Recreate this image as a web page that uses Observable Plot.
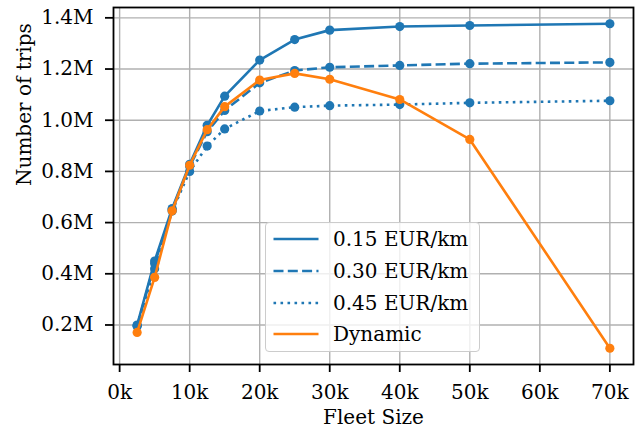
<!DOCTYPE html>
<html><head><meta charset="utf-8">
<script src="https://cdn.jsdelivr.net/npm/d3@7"></script>
<script src="https://cdn.jsdelivr.net/npm/@observablehq/plot@0.6"></script>
<style>
body{margin:0;background:#fff;}
#wrap{position:relative;width:644px;height:432px;font-family:'DejaVu Serif',serif;}
#wrap svg, #wrap svg text{font-family:'DejaVu Serif',serif !important;}
.legend{position:absolute;left:265px;top:222px;width:215px;height:130px;box-sizing:border-box;border:1.3px solid #cccccc;border-radius:4px;background:rgba(255,255,255,0.8);font-size:20px;color:#000;}
.legend .row{position:absolute;left:0;width:100%;height:32px;line-height:32px;white-space:nowrap;}
.legend .row svg{position:absolute;left:7px;top:0;}
.legend .row span{position:absolute;left:67px;top:0;}
</style>
</head><body>
<div id="wrap"></div>
<script>
// ---- data ----
const fleet = [2500, 5000, 7500, 10000, 12500, 15000, 20000, 25000, 30000, 40000, 50000, 70000];
const trips015 = [200000, 450000, 655000, 828000, 980000, 1094000, 1235000, 1315000, 1352000, 1366000, 1370000, 1377000];
const trips030 = [195000, 440000, 650000, 820000, 955000, 1038000, 1146000, 1194000, 1207000, 1214000, 1221000, 1226000];
const trips045 = [198000, 420000, 645000, 800000, 899000, 966000, 1036000, 1051000, 1057000, 1061000, 1068000, 1076000];
const tripsDyn = [171000, 386000, 646000, 824000, 963000, 1053000, 1157000, 1183000, 1160000, 1081000, 925000, 109000];
const seriesNames = ["0.15 EUR/km", "0.30 EUR/km", "0.45 EUR/km", "Dynamic"];
const xTicks = [0, 10000, 20000, 30000, 40000, 50000, 60000, 70000];
const yTicks = [200000, 400000, 600000, 800000, 1000000, 1200000, 1400000];

// ---- styling ----
const seriesColors = ["#1f77b4", "#1f77b4", "#1f77b4", "#ff7f0e"];
const seriesDash = [null, "10,4.3", "2.6,4.4", null];
const seriesValues = [trips015, trips030, trips045, tripsDyn];
const FONT = "'DejaVu Serif',serif";

const marks = [
  Plot.gridX(xTicks, {stroke: "#b0b0b0", strokeOpacity: 1, strokeWidth: 1.4}),
  Plot.gridY(yTicks, {stroke: "#b0b0b0", strokeOpacity: 1, strokeWidth: 1.4})
];
seriesNames.forEach((name, s) => {
  const rows = fleet.map((f, i) => ({series: name, fleet: f, trips: seriesValues[s][i]}));
  marks.push(Plot.line(rows, {x: "fleet", y: "trips", stroke: seriesColors[s], strokeWidth: 2.6,
    strokeDasharray: seriesDash[s] || undefined, strokeLinecap: "butt", strokeLinejoin: "round"}));
  marks.push(Plot.dot(rows, {x: "fleet", y: "trips", r: 4.6, fill: seriesColors[s], stroke: "none"}));
});
marks.push(
  Plot.frame({stroke: "black", strokeWidth: 1.8}),
  Plot.axisX(xTicks, {tickFormat: d => `${d / 1000}k`, tickSize: 8, tickPadding: 12, strokeWidth: 1.8, label: null}),
  Plot.axisY(yTicks, {tickFormat: d => `${(d / 1e6).toFixed(1)}M`, tickSize: 8, tickPadding: 12, strokeWidth: 1.8, label: null}),
  Plot.text(["Fleet Size"], {text: d => d, frameAnchor: "bottom", dy: 59, fill: "black"}),
  Plot.text(["Number of trips"], {text: d => d, frameAnchor: "left", rotate: -90, dx: -89, fill: "black"})
);

const chart = Plot.plot({
  width: 644, height: 432,
  marginLeft: 113, marginRight: 11, marginTop: 7, marginBottom: 68,
  x: {domain: [-875, 73375]},
  y: {domain: [45600, 1440400]},
  style: {fontFamily: FONT, fontSize: "20px", color: "black", background: "white"},
  marks
});
const wrap = document.getElementById("wrap");
wrap.appendChild(chart);

// legend overlay
const legend = document.createElement("div");
legend.className = "legend";
seriesNames.forEach((name, s) => {
  const row = document.createElement("div");
  row.className = "row";
  row.style.top = (0.3 + s * 31.7) + "px";
  const dash = seriesDash[s] ? ` stroke-dasharray="${seriesDash[s]}"` : "";
  row.innerHTML = `<svg width="46" height="32"><line x1="0.5" x2="45.5" y1="16" y2="16" stroke="${seriesColors[s]}" stroke-width="2.6"${dash}/></svg><span>${name}</span>`;
  legend.appendChild(row);
});
wrap.appendChild(legend);
</script>
</body></html>
